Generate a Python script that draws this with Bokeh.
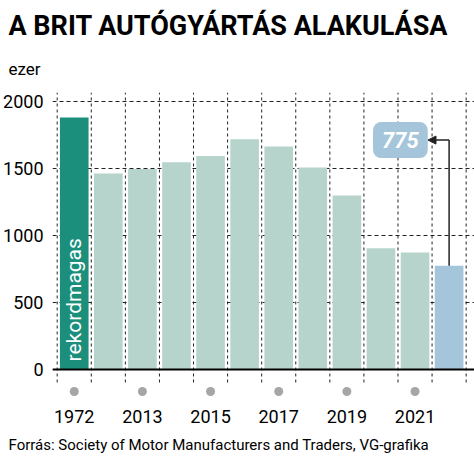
from math import pi
from bokeh.plotting import figure
from bokeh.models import (Range1d, FixedTicker, Span, Label, Arrow, NormalHead, Title, ColumnDataSource)
from bokeh.core.properties import value
from bokeh.embed import file_html
from bokeh.resources import INLINE

# ---- data ----
years = ["1972", "2012", "2013", "2014", "2015", "2016", "2017", "2018", "2019", "2020", "2021", "2022"]
production = [1880, 1463, 1497, 1547, 1594, 1719, 1664, 1507, 1299, 905, 873, 775]
label_years = ["1972", "2013", "2015", "2017", "2019", "2021"]
y_ticks = [0, 500, 1000, 1500, 2000]
title_text = "A BRIT AUTÓGYÁRTÁS ALAKULÁSA"
unit_text = "ezer"
source_text = "Forrás: Society of Motor Manufacturers and Traders, VG-grafika"
record_text = "rekordmagas"

FONT = "Roboto"
C_RECORD = "#1b8f7b"
C_BAR = "#b7d4cc"
C_LAST = "#a4c5da"
C_LINE = "#222222"

xs = [i + 0.5 for i in range(len(years))]
colors = [C_RECORD] + [C_BAR] * (len(years) - 2) + [C_LAST]
src = ColumnDataSource(dict(x=xs, top=production, color=colors))

Y0, Y1 = -209, 2067
p = figure(frame_width=422, frame_height=305, output_backend="svg", toolbar_location=None,
           x_range=Range1d(-0.138, len(years) + 0.245), y_range=Range1d(Y0, Y1),
           min_border_left=44, min_border_right=0, min_border_top=92, min_border_bottom=60,
           title=None)
p.outline_line_color = None
p.background_fill_color = "white"
p.border_fill_color = "white"

# vertical dashed separators between categories
bx = list(range(len(years) + 1))
p.segment(x0=bx, y0=[-97] * len(bx), x1=bx, y1=[Y1] * len(bx),
          line_color=C_LINE, line_width=1, line_dash="3 3")

p.vbar(x="x", top="top", width=0.84, color="color", source=src, line_color=None)

# zero line
p.add_layout(Span(location=0, dimension="width", line_color="black", line_width=2))

# record label
p.text(x=[xs[0]], y=[60], text=[record_text], angle=pi / 2, text_color="white",
       text_font=value(FONT), text_font_size="21px", text_align="left", text_baseline="middle")

# dots under labelled years
lx = [years.index(y) + 0.5 for y in label_years]
p.scatter(x=lx, y=[-164] * len(lx), size=9, color="#a6a6a6", line_color=None)

# value callout
last_x = xs[-1]
last_v = production[-1]
box_y = 1712
p.line(x=[last_x, last_x], y=[last_v, box_y], line_color=C_LINE, line_width=1.5)
p.add_layout(Arrow(end=NormalHead(size=8, fill_color=C_LINE, line_color=C_LINE),
                   x_start=last_x, y_start=box_y, x_end=10.88, y_end=box_y,
                   line_color=C_LINE, line_width=1.5))
p.add_layout(Label(x=10.07, y=box_y, text=str(last_v), text_align="center", text_baseline="middle",
                   text_color="white", text_font=FONT, text_font_size="22px",
                   text_font_style="bold italic", background_fill_color=C_LAST,
                   border_radius=8, padding=(9, 10)))

# grid & axes
p.xgrid.grid_line_color = None
p.ygrid.ticker = FixedTicker(ticks=y_ticks)
p.ygrid.grid_line_color = C_LINE
p.ygrid.grid_line_dash = "4 3"
p.ygrid.grid_line_width = 1

p.yaxis.ticker = FixedTicker(ticks=y_ticks)
p.yaxis.axis_line_color = None
p.yaxis.major_tick_line_color = None
p.yaxis.minor_tick_line_color = None
p.yaxis.major_label_standoff = 3
p.yaxis.major_label_text_font = FONT
p.yaxis.major_label_text_font_size = "18px"
p.yaxis.major_label_text_color = "black"

p.xaxis.ticker = FixedTicker(ticks=lx)
p.xaxis.major_label_overrides = {x: y for x, y in zip(lx, label_years)}
p.xaxis.axis_line_color = None
p.xaxis.major_tick_line_color = None
p.xaxis.minor_tick_line_color = None
p.xaxis.major_label_standoff = 6
p.xaxis.major_label_text_font = FONT
p.xaxis.major_label_text_font_size = "18px"
p.xaxis.major_label_text_color = "black"

# titles
p.add_layout(Title(text=unit_text, text_font=FONT, text_font_size="17px", text_font_style="normal",
                   align="left", offset=-44, text_color="black", standoff=27), "above")
p.add_layout(Title(text=title_text, text_font=FONT, text_font_size="27px", text_font_style="bold",
                   align="left", offset=-44, text_color="black", standoff=4), "above")
p.add_layout(Title(text=source_text, text_font=FONT, text_font_size="15px", text_font_style="normal",
                   align="left", offset=-44, text_color="black", standoff=17), "below")

open("out.html", "w").write(file_html(p, INLINE))
